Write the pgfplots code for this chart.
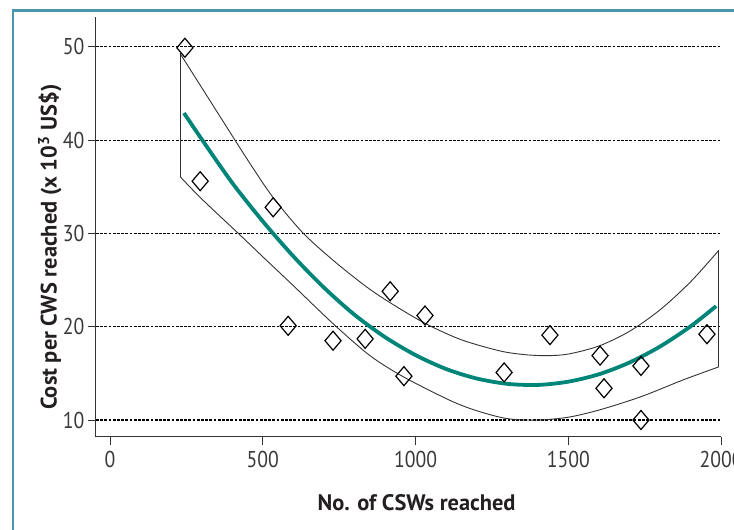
\documentclass[border=0pt]{standalone}
\usepackage{fontspec}
\setmainfont{PT Sans}[FakeStretch=0.86]
\newfontfamily\labfont{PT Sans}
\usepackage{pgfplots}
\pgfplotsset{compat=1.18}
\definecolor{framecol}{HTML}{4A96AE}
\definecolor{fitcol}{HTML}{008578}
\definecolor{tickcol}{HTML}{3A3A3A}
\definecolor{axcol}{HTML}{333333}
\definecolor{labcol}{HTML}{231F20}
\begin{document}
\begin{tikzpicture}[x=1bp,y=1bp]
\useasboundingbox (-96,-93) rectangle (638,437);
\draw[framecol, line width=2.4bp] (-83,-120) -- (-83,426.5) -- (700,426.5);
\begin{axis}[
  scale only axis, width=625bp, height=420bp,
  xmin=-46, xmax=2000, ymin=8.18, ymax=53.2,
  axis lines=left,
  axis line style={-, color=axcol, line width=1bp},
  xtick={0,500,1000,1500,2000},
  ytick={10,20,30,40,50},
  tick align=outside,
  major tick length=8bp,
  tick style={color=axcol, line width=1bp},
  ymajorgrids,
  grid style={black, line width=1.1bp, dash pattern=on 2.8bp off 1.4bp},
  /pgf/number format/assume math mode=true,
  /pgf/number format/1000 sep={},
  ticklabel style={font=\fontsize{23}{25}\selectfont, color=tickcol},
  xticklabel style={yshift=-3bp},
  xlabel={No. of CSWs reached},
  ylabel={Cost per CWS reached (x 10\textsuperscript{3} US\$)},
  label style={font=\labfont\bfseries\fontsize{22.5}{26}\selectfont, color=labcol},
  xlabel style={at={(axis description cs:0.513,-0.157)}, anchor=center},
  ylabel style={at={(axis description cs:-0.074,0.452)}, anchor=center},
  clip=false,
]
% confidence band
\addplot[axcol, line width=0.9bp, smooth, tension=0.5] coordinates {
(229,49.3)(320,44.6)(409,40.0)(470,36.9)(535,33.8)(633,30.0)(742,26.8)(851,24.0)(950,21.9)(1041,20.2)(1150,18.6)(1277,17.4)(1360,17.0)(1430,16.9)(1500,17.07)(1600,17.93)(1700,19.5)(1800,21.8)(1900,24.8)(1993,28.2)};
\addplot[axcol, line width=0.9bp, smooth, tension=0.5] coordinates {
(229,36.1)(300,33.7)(420,30.0)(500,27.5)(600,24.4)(731,20.3)(851,16.9)(962,14.6)(1113,12.1)(1200,11.0)(1300,10.15)(1400,10.0)(1500,10.3)(1604,11.1)(1738,12.5)(1876,14.3)(1993,15.7)};
\addplot[axcol, line width=0.9bp] coordinates {(229,36.1)(229,49.3)};
\addplot[axcol, line width=0.9bp] coordinates {(1993,15.7)(1993,28.2)};
% fitted curve
\addplot[fitcol, line width=3.8bp, smooth] coordinates {
(242,42.9)(300,40.10)(400,35.42)(500,31.30)(600,27.55)(700,24.20)(800,21.29)(900,18.89)(1000,16.96)(1100,15.47)(1200,14.45)(1300,13.88)(1400,13.76)(1500,14.11)(1600,14.90)(1700,16.16)(1800,17.87)(1900,20.03)(1984,22.21)};
% data points
\addplot[only marks, mark=diamond, mark size=9.5bp, black,
  mark options={line width=1.2bp, fill=white, xscale=1.13}] coordinates {
(245,49.9)(295,35.6)(534,32.8)(583,20.1)(730,18.5)(835,18.7)(917,23.8)(962,14.7)(1031,21.2)(1290,15.1)(1440,19.1)(1604,16.9)(1617,13.4)(1738,15.8)(1738,10.0)(1954,19.2)};
\end{axis}
\end{tikzpicture}
\end{document}
